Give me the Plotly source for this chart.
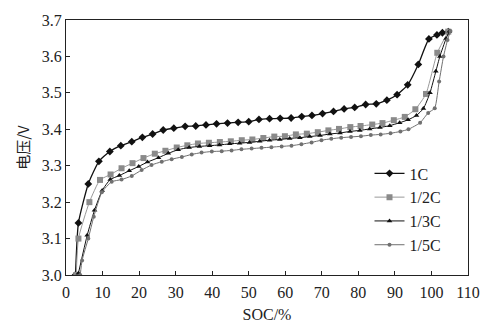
import plotly.graph_objects as go

soc_1c = [2.6, 3.4, 6.1, 9.0, 12.0, 15.0, 18.0, 20.9, 23.7, 26.6, 29.5, 32.6, 35.5, 38.3, 41.2, 44.2, 47.1, 50.0,
          52.8, 55.7, 58.6, 61.6, 64.5, 67.3, 70.2, 73.2, 76.1, 79.0, 82.0, 84.9, 87.8, 90.6, 93.5, 96.4, 99.3,
          101.5, 103.0, 104.6]
v_1c = [3.0, 3.143, 3.25, 3.312, 3.339, 3.355, 3.366, 3.378, 3.387, 3.398, 3.403, 3.408, 3.409, 3.412, 3.415,
        3.417, 3.419, 3.421, 3.427, 3.429, 3.43, 3.431, 3.435, 3.438, 3.443, 3.449, 3.456, 3.46, 3.468, 3.47,
        3.48, 3.495, 3.522, 3.578, 3.648, 3.659, 3.665, 3.668]

soc_2c = [2.8, 3.4, 6.4, 9.3, 12.2, 15.2, 18.2, 21.2, 24.3, 27.2, 30.3, 33.2, 36.1, 39.1, 42.1, 45.1, 48.1, 51.0,
          54.0, 57.0, 59.9, 62.9, 65.9, 68.9, 71.8, 74.7, 77.8, 80.6, 83.8, 86.6, 89.7, 92.7, 95.6, 98.5, 101.6,
          104.6]
v_2c = [3.0, 3.10, 3.20, 3.261, 3.276, 3.293, 3.307, 3.321, 3.333, 3.341, 3.35, 3.356, 3.361, 3.363, 3.365, 3.367,
        3.37, 3.372, 3.376, 3.38, 3.381, 3.386, 3.388, 3.392, 3.397, 3.401, 3.406, 3.409, 3.413, 3.417, 3.425,
        3.434, 3.455, 3.497, 3.61, 3.668]

soc_3c = [3.4, 5.8, 7.8, 9.9, 12.1, 14.6, 17.3, 19.9, 22.3, 25.3, 28.0, 30.7, 33.7, 36.5, 39.3, 42.0, 44.8, 47.5,
          50.2, 53.0, 55.7, 58.5, 61.2, 64.0, 66.7, 69.5, 72.2, 75.0, 77.7, 80.4, 83.1, 85.9, 88.6, 91.3, 93.6,
          95.9, 97.8, 99.6, 101.2, 102.3, 104.0, 104.9]
v_3c = [3.005, 3.109, 3.178, 3.232, 3.262, 3.273, 3.286, 3.298, 3.31, 3.322, 3.334, 3.344, 3.35, 3.353, 3.355,
        3.357, 3.36, 3.362, 3.364, 3.367, 3.37, 3.372, 3.375, 3.377, 3.38, 3.383, 3.387, 3.39, 3.394, 3.397,
        3.401, 3.405, 3.41, 3.418, 3.426, 3.438, 3.457, 3.5, 3.559, 3.6, 3.649, 3.669]

soc_5c = [3.9, 4.4, 6.1, 7.6, 9.8, 12.5, 15.2, 18.0, 20.7, 23.4, 26.2, 28.9, 31.7, 34.4, 37.1, 39.9, 42.6, 45.3,
          48.0, 50.8, 53.5, 56.2, 59.0, 61.7, 64.4, 67.2, 69.9, 72.6, 75.3, 78.0, 80.7, 83.4, 86.1, 88.8, 91.5,
          93.7, 96.9, 99.1, 100.9, 102.1, 103.3, 104.4, 105.2]
v_5c = [3.0, 3.04, 3.1, 3.16, 3.227, 3.256, 3.262, 3.272, 3.288, 3.302, 3.311, 3.318, 3.324, 3.331, 3.336, 3.339,
        3.34, 3.342, 3.345, 3.347, 3.349, 3.351, 3.353, 3.355, 3.359, 3.364, 3.37, 3.374, 3.377, 3.379, 3.381,
        3.384, 3.386, 3.389, 3.394, 3.4, 3.418, 3.445, 3.458, 3.531, 3.6, 3.645, 3.67]

x_ticks = [0, 10, 20, 30, 40, 50, 60, 70, 80, 90, 100, 110]
y_ticks = [3.0, 3.1, 3.2, 3.3, 3.4, 3.5, 3.6, 3.7]

serif = "Liberation Serif, Times New Roman, serif"

fig = go.Figure()
fig.add_trace(go.Scatter(x=soc_1c, y=v_1c, name="1C", mode="lines+markers",
                         line=dict(color="#111111", width=1.3, shape="spline", smoothing=0.5),
                         marker=dict(symbol="diamond", size=6, color="#111111")))
fig.add_trace(go.Scatter(x=soc_2c, y=v_2c, name="1/2C", mode="lines+markers",
                         line=dict(color="#999999", width=1.0, shape="spline", smoothing=0.5),
                         marker=dict(symbol="square", size=6, color="#8a8a8a")))
fig.add_trace(go.Scatter(x=soc_3c, y=v_3c, name="1/3C", mode="lines+markers",
                         line=dict(color="#111111", width=1.0, shape="spline", smoothing=0.5),
                         marker=dict(symbol="triangle-up", size=5, color="#111111")))
fig.add_trace(go.Scatter(x=soc_5c, y=v_5c, name="1/5C", mode="lines+markers",
                         line=dict(color="#707070", width=1.0, shape="spline", smoothing=0.5),
                         marker=dict(symbol="circle", size=4, color="#707070")))

axis_common = dict(showgrid=False, zeroline=False, showline=True, linecolor="#222222", linewidth=1,
                   mirror=True, ticks="inside", ticklen=4, tickcolor="#222222",
                   tickfont=dict(family=serif, size=16, color="#222222"))

fig.update_layout(
    width=496, height=336,
    margin=dict(l=66, r=28, t=18, b=61),
    paper_bgcolor="white", plot_bgcolor="white",
    xaxis=dict(range=[0, 110], tickvals=x_ticks, ticktext=[str(v) for v in x_ticks],
               ticklabelstandoff=3,
               title=dict(text="SOC/%", font=dict(family=serif, size=16, color="#222222"), standoff=8),
               **axis_common),
    yaxis=dict(range=[3.0, 3.7], tickvals=y_ticks, ticktext=[f"{v:.1f}" for v in y_ticks],
               title=dict(text="电压/V", font=dict(family="Noto Sans CJK SC", size=15, color="#222222"),
                          standoff=8),
               **axis_common),
    legend=dict(x=0.755, y=0.465, xanchor="left", yanchor="top", bgcolor="rgba(0,0,0,0)",
                font=dict(family=serif, size=16, color="#222222"), itemwidth=30, tracegroupgap=0),
    showlegend=True,
)

fig.write_html("out.html")
